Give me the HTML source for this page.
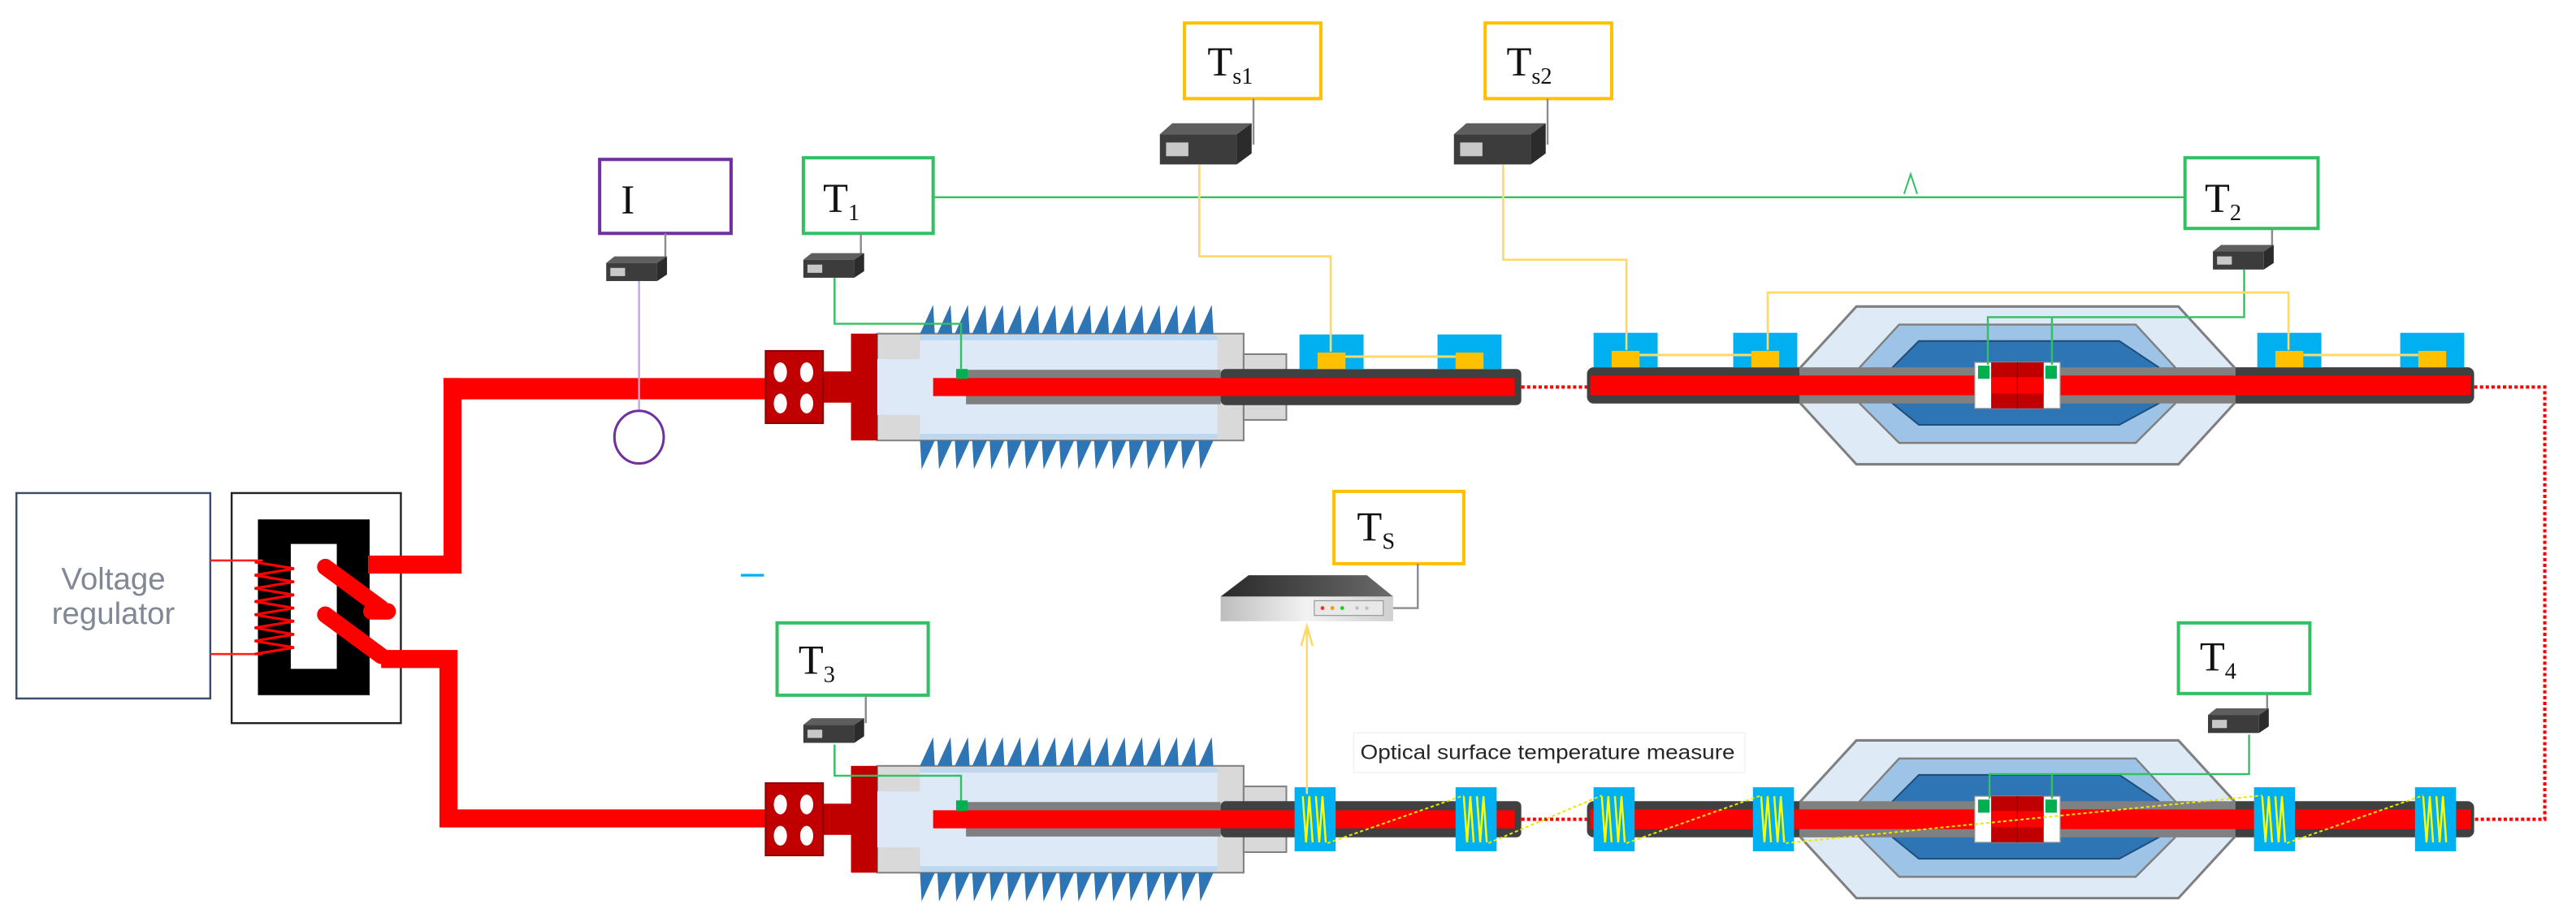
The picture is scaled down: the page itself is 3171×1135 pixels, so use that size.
<!DOCTYPE html>
<html><head><meta charset="utf-8"><style>
html,body{margin:0;padding:0;background:#fff;}
svg{display:block;}
</style></head><body>
<svg width="3171" height="1135" viewBox="0 0 1568 561" preserveAspectRatio="none" xmlns="http://www.w3.org/2000/svg">
<defs>
<linearGradient id="gtop" x1="0" x2="1"><stop offset="0" stop-color="#2a2a2a"/><stop offset="1" stop-color="#6a6a6a"/></linearGradient>
<linearGradient id="gfront" x1="0" x2="1"><stop offset="0" stop-color="#bdbdbd"/><stop offset="0.5" stop-color="#f2f2f2"/><stop offset="1" stop-color="#d0d0d0"/></linearGradient>
<g id="dev">
<polygon points="0,4 5,0 37,0 31,4" fill="#5e5e5e"/>
<polygon points="31,4 37,0 37,11 31,15" fill="#2b2b2b"/>
<rect x="0" y="4" width="31" height="11" fill="#3c3c3c"/>
<rect x="2.5" y="7" width="9" height="5" fill="#c8c8c8"/>
</g>
<g id="term">
<rect x="501" y="-9.5" width="80" height="19" fill="#c00000"/>
<rect x="534" y="-32.5" width="223" height="65" fill="#d9d9d9" stroke="#808080" stroke-width="1"/>
<rect x="757" y="-20" width="26" height="40" fill="#d9d9d9" stroke="#808080" stroke-width="1"/>
<rect x="560" y="-31.5" width="181" height="63" fill="#dde9f6"/>
<rect x="560" y="-31.5" width="181" height="3" fill="#bdd7ee"/>
<rect x="560" y="28.5" width="181" height="3" fill="#bdd7ee"/>
<rect x="534" y="-17" width="26" height="34" fill="#dde9f6"/>
<rect x="588" y="-10.5" width="155" height="21" fill="#7f7f7f"/>
<rect x="743" y="-11" width="183" height="22" rx="3" fill="#404040"/>
<rect x="568" y="-5.5" width="354" height="11" fill="#ff0000"/>
<rect x="518" y="-32.5" width="16" height="65" fill="#c00000"/>
<rect x="466" y="-22" width="35" height="44" fill="#c00000" stroke="#8b0000" stroke-width="1"/>
<ellipse cx="475" cy="-9" rx="4" ry="6" fill="#fff"/><ellipse cx="491" cy="-9" rx="4" ry="6" fill="#fff"/>
<ellipse cx="475" cy="10" rx="4" ry="6" fill="#fff"/><ellipse cx="491" cy="10" rx="4" ry="6" fill="#fff"/>
<rect x="582" y="-11" width="7" height="6" fill="#00b050"/>
<g fill="#2e75b6">
<polygon points="560,-32.5 569,-32.5 568,-50"/><polygon points="570.6,-32.5 579.6,-32.5 578.6,-50"/><polygon points="581.2,-32.5 590.2,-32.5 589.2,-50"/><polygon points="591.8,-32.5 600.8,-32.5 599.8,-50"/><polygon points="602.4,-32.5 611.4,-32.5 610.4,-50"/><polygon points="613,-32.5 622,-32.5 621,-50"/><polygon points="623.6,-32.5 632.6,-32.5 631.6,-50"/><polygon points="634.2,-32.5 643.2,-32.5 642.2,-50"/><polygon points="644.8,-32.5 653.8,-32.5 652.8,-50"/><polygon points="655.4,-32.5 664.4,-32.5 663.4,-50"/><polygon points="666,-32.5 675,-32.5 674,-50"/><polygon points="676.6,-32.5 685.6,-32.5 684.6,-50"/><polygon points="687.2,-32.5 696.2,-32.5 695.2,-50"/><polygon points="697.8,-32.5 706.8,-32.5 705.8,-50"/><polygon points="708.4,-32.5 717.4,-32.5 716.4,-50"/><polygon points="719,-32.5 728,-32.5 727,-50"/><polygon points="729.6,-32.5 738.6,-32.5 737.6,-50"/>
<polygon points="560,32.5 569,32.5 561,50"/><polygon points="570.6,32.5 579.6,32.5 571.6,50"/><polygon points="581.2,32.5 590.2,32.5 582.2,50"/><polygon points="591.8,32.5 600.8,32.5 592.8,50"/><polygon points="602.4,32.5 611.4,32.5 603.4,50"/><polygon points="613,32.5 622,32.5 614,50"/><polygon points="623.6,32.5 632.6,32.5 624.6,50"/><polygon points="634.2,32.5 643.2,32.5 635.2,50"/><polygon points="644.8,32.5 653.8,32.5 645.8,50"/><polygon points="655.4,32.5 664.4,32.5 656.4,50"/><polygon points="666,32.5 675,32.5 667,50"/><polygon points="676.6,32.5 685.6,32.5 677.6,50"/><polygon points="687.2,32.5 696.2,32.5 688.2,50"/><polygon points="697.8,32.5 706.8,32.5 698.8,50"/><polygon points="708.4,32.5 717.4,32.5 709.4,50"/><polygon points="719,32.5 728,32.5 720,50"/><polygon points="729.6,32.5 738.6,32.5 730.6,50"/>
</g>
</g>
<g id="joint">
<rect x="966" y="-11" width="540" height="22" rx="4" fill="#404040"/>
<polygon points="1130,-48 1326,-48 1360,-11 1360,11 1326,48 1130,48 1096,11 1096,-11" fill="#deebf7" stroke="#7f7f7f" stroke-width="1.5"/>
<polygon points="1156,-37 1300,-37 1324,-11 1324,11 1300,35 1156,35 1132,11 1132,-11" fill="#9dc3e6" stroke="#7f7f7f" stroke-width="1.2"/>
<polygon points="1168,-27 1290,-27 1314,-11 1314,11 1290,24 1168,24 1152,11 1152,-11" fill="#2e75b6" stroke="#1f4e79" stroke-width="1"/>
<rect x="1096" y="-11" width="264" height="22" fill="#808080"/>
<rect x="968" y="-6" width="536" height="12" fill="#ff0000"/>
<rect x="1202" y="-14" width="52" height="28" fill="#fff" stroke="#999" stroke-width="0.6"/>
<rect x="1212" y="-14" width="32" height="28" fill="#c00000"/>
<rect x="1204" y="-12" width="7" height="8" fill="#00b050"/>
<rect x="1245" y="-12" width="7" height="8" fill="#00b050"/>
<rect x="1212" y="-5" width="32" height="10" fill="#ff0000"/>
<line x1="1228" y1="-14" x2="1228" y2="14" stroke="#400" stroke-width="0.6"/>
</g>
<g id="pad"><rect x="0" y="-32" width="39" height="21" fill="#00b0f0"/><rect x="11" y="-21" width="17" height="10" fill="#ffc000"/></g>
<g id="coil"><rect x="0" y="-19.5" width="25" height="39" fill="#00b0f0"/>
<polyline points="5,-14 7,14 9,-14 11,14" fill="none" stroke="#ffff00" stroke-width="1.2"/>
<polyline points="13,-14 15,14 17,-14 19,14" fill="none" stroke="#ffff00" stroke-width="1.2"/>
</g>
</defs>

<!-- Voltage regulator -->
<rect x="10" y="300" width="118" height="125" fill="#fff" stroke="#3a4d6e" stroke-width="1.2"/>
<text x="69" y="358.5" font-family="Liberation Sans, sans-serif" font-size="19" fill="#808896" text-anchor="middle">Voltage</text>
<text x="69" y="379.5" font-family="Liberation Sans, sans-serif" font-size="19" fill="#808896" text-anchor="middle">regulator</text>
<!-- transformer -->
<rect x="141" y="300" width="103" height="140" fill="#fff" stroke="#222" stroke-width="1.2"/>
<path d="M157,316 H225 V423 H157 Z M177,331 V407 H205 V331 Z" fill="#000" fill-rule="evenodd"/>
<line x1="128" y1="341" x2="160" y2="341" stroke="#ff2020" stroke-width="1.3"/>
<line x1="128" y1="398" x2="160" y2="398" stroke="#ff2020" stroke-width="1.3"/>
<polyline points="155,342 179,346 155,350 179,354 155,358 179,362 155,366 179,370 155,374 179,378 155,382 179,386 155,390 179,394 155,398" fill="none" stroke="#ff0000" stroke-width="1.6"/>
<!-- secondary wires -->
<g stroke="#ff0000" fill="none">
<path d="M224,343.5 H275.5 V230" stroke-width="11"/>
<line x1="198" y1="345" x2="232" y2="370" stroke-width="10" stroke-linecap="round"/>
<line x1="226" y1="372" x2="236" y2="372" stroke-width="10" stroke-linecap="round"/>
<line x1="198" y1="374" x2="232" y2="399" stroke-width="10" stroke-linecap="round"/>
<path d="M232,401 H273 V498 H466" stroke-width="11"/>
<path d="M270,236.5 H466" stroke-width="13"/>
</g>

<!-- terminations and joints -->
<use href="#term" y="235.5"/>
<use href="#term" y="498.5"/>
<use href="#joint" y="234.5"/>
<use href="#joint" y="498.5"/>

<!-- red dotted -->
<g stroke="#ff0000" stroke-width="2" stroke-dasharray="2 1.5" fill="none">
<line x1="926" y1="235.5" x2="966" y2="235.5"/>
<line x1="926" y1="498.5" x2="966" y2="498.5"/>
<polyline points="1506,235.5 1549,235.5 1549,498.5 1506,498.5"/>
</g>

<!-- top pads -->
<use href="#pad" x="791" y="235.5"/><use href="#pad" x="875" y="235.5"/>
<use href="#pad" x="970" y="234.5"/><use href="#pad" x="1055" y="234.5"/>
<use href="#pad" x="1374" y="234.5"/><use href="#pad" x="1461" y="234.5"/>
<g stroke="#ffd966" stroke-width="1.5" fill="none">
<line x1="819" y1="217" x2="886" y2="217"/>
<line x1="998" y1="216" x2="1066" y2="216"/>
<line x1="1402" y1="216" x2="1472" y2="216"/>
</g>
<!-- bottom coils -->
<use href="#coil" x="788" y="498.5"/><use href="#coil" x="886" y="498.5"/>
<use href="#coil" x="970" y="498.5"/><use href="#coil" x="1067" y="498.5"/>
<use href="#coil" x="1372" y="498.5"/><use href="#coil" x="1470" y="498.5"/>
<g stroke="#e8e800" stroke-width="1" stroke-dasharray="2 1.5" fill="none">
<line x1="808" y1="513" x2="891" y2="484"/>
<line x1="906" y1="513" x2="975" y2="484"/>
<line x1="990" y1="513" x2="1072" y2="484"/>
<line x1="1087" y1="513" x2="1377" y2="484"/>
<line x1="1392" y1="513" x2="1475" y2="484"/>
</g>

<!-- label boxes -->
<g fill="#fff" stroke-width="2">
<rect x="365" y="97" width="80" height="45" stroke="#7030a0"/>
<rect x="489" y="96" width="79" height="46" stroke="#33c064"/>
<rect x="721" y="14" width="83" height="46" stroke="#ffc000"/>
<rect x="904" y="14" width="77" height="46" stroke="#ffc000"/>
<rect x="1330" y="96" width="81" height="43" stroke="#33c064"/>
<rect x="473" y="379" width="92" height="44" stroke="#33c064"/>
<rect x="812" y="299" width="79" height="44" stroke="#ffc000"/>
<rect x="1326" y="379" width="80" height="43" stroke="#33c064"/>
</g>
<g font-family="Liberation Serif, serif" fill="#111" font-size="25">
<text x="378" y="130">I</text>
<text x="501" y="129">T<tspan font-size="14" dy="5">1</tspan></text>
<text x="735" y="46">T<tspan font-size="14" dy="5">s1</tspan></text>
<text x="917" y="46">T<tspan font-size="14" dy="5">s2</tspan></text>
<text x="1342" y="129">T<tspan font-size="14" dy="5">2</tspan></text>
<text x="486" y="410">T<tspan font-size="14" dy="5">3</tspan></text>
<text x="826" y="329">T<tspan font-size="14" dy="5">S</tspan></text>
<text x="1339" y="408">T<tspan font-size="14" dy="5">4</tspan></text>
</g>

<!-- green T1-T2 line -->
<line x1="568" y1="120" x2="1330" y2="120" stroke="#33c064" stroke-width="1.2"/>
<polyline points="1159,118 1163,106 1167,118" fill="none" stroke="#33c064" stroke-width="1"/>

<!-- device links -->
<g stroke="#8c8c8c" stroke-width="1.2">
<line x1="405" y1="142" x2="405" y2="160"/>
<line x1="524" y1="142" x2="524" y2="158"/>
<line x1="1383" y1="139" x2="1383" y2="152"/>
<line x1="527" y1="423" x2="527" y2="440"/>
<line x1="1380" y1="422" x2="1380" y2="435"/>
<line x1="763" y1="60" x2="763" y2="88"/>
<line x1="942" y1="60" x2="942" y2="88"/>
<polyline points="863,343 863,370 848,370" fill="none"/>
</g>
<use href="#dev" x="369" y="156"/>
<use href="#dev" x="489" y="154"/>
<use href="#dev" x="1347" y="149"/>
<use href="#dev" x="489" y="437"/>
<use href="#dev" x="1344" y="431"/>
<use href="#dev" transform="translate(706,75) scale(1.51,1.67)"/>
<use href="#dev" transform="translate(885,75) scale(1.51,1.67)"/>

<!-- green sensor lines -->
<g stroke="#33c064" stroke-width="1.2" fill="none">
<polyline points="508,169 508,197 585,197 585,225"/>
<polyline points="1366,164 1366,193 1210,193 1210,222"/>
<line x1="1249" y1="193" x2="1249" y2="222"/>
<polyline points="508,453 508,472 585,472 585,490"/>
<polyline points="1369,447 1369,471 1211,471 1211,486"/>
<line x1="1249" y1="471" x2="1249" y2="486"/>
</g>
<rect x="582" y="487" width="7" height="6" fill="#00b050"/>
<!-- orange lines -->
<g stroke="#ffd966" stroke-width="1.3" fill="none">
<polyline points="730,100 730,156 810,156 810,214"/>
<polyline points="915,100 915,158 990,158 990,213"/>
<polyline points="1076,213 1076,178 1393,178 1393,213"/>
<line x1="795.5" y1="483" x2="795.5" y2="382"/>
<polyline points="792,393 795.5,381 799,393"/>
</g>
<!-- purple -->
<line x1="389" y1="171" x2="389" y2="250" stroke="#c8a8dc" stroke-width="1.2"/>
<ellipse cx="389" cy="266" rx="15" ry="16" fill="#fff" stroke="#7030a0" stroke-width="1.5"/>
<!-- blue dash -->
<line x1="451" y1="350" x2="465" y2="350" stroke="#00b0f0" stroke-width="1.6"/>

<!-- Ts server -->
<polygon points="743,363 760,350 832,350 848,363" fill="url(#gtop)"/>
<rect x="743" y="363" width="105" height="15" fill="url(#gfront)"/>
<rect x="800" y="365.5" width="42" height="9" fill="#e8e8e8" stroke="#999" stroke-width="0.6"/>
<circle cx="805" cy="370" r="1.2" fill="#e33"/><circle cx="811" cy="370" r="1.2" fill="#f90"/><circle cx="817" cy="370" r="1.2" fill="#2c2"/>
<circle cx="826" cy="370" r="1" fill="#bbb"/><circle cx="832" cy="370" r="1" fill="#bbb"/>

<!-- text -->
<rect x="824" y="446" width="238" height="24" fill="#fff" stroke="#f2f2f2" stroke-width="0.8"/>
<text x="828" y="462" font-family="Liberation Sans, sans-serif" font-size="12.5" fill="#262626" textLength="228" lengthAdjust="spacingAndGlyphs">Optical surface temperature measure</text>
</svg>
</body></html>
